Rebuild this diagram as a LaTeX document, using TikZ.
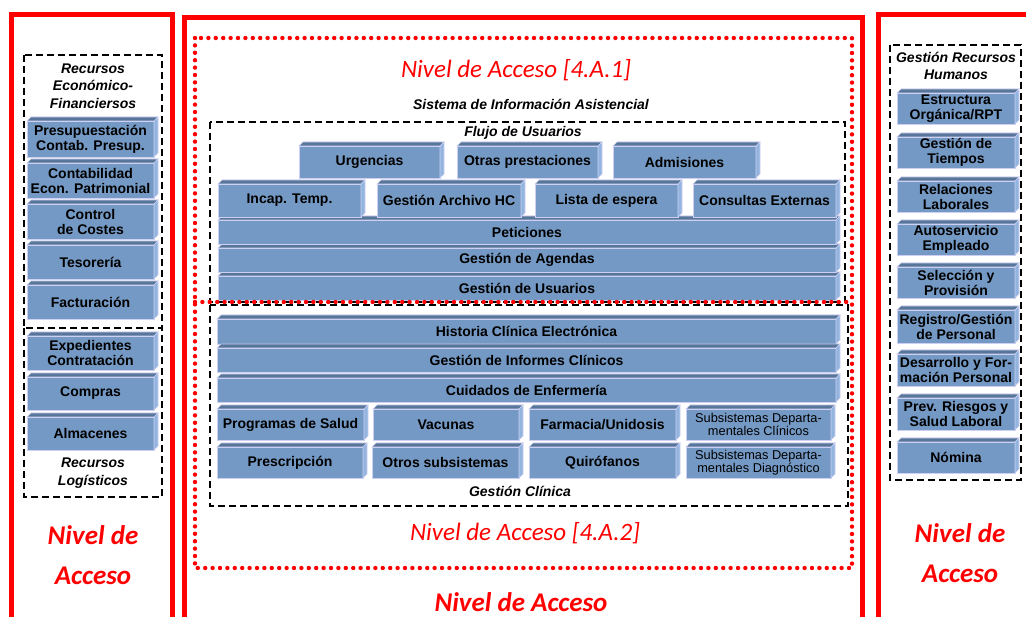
\documentclass[tikz,border=0pt]{standalone}
\usepackage{fontspec}
\setmainfont{Liberation Sans}
\newfontfamily\calfont{Carlito}
\usetikzlibrary{calc}
\definecolor{cfront}{RGB}{116,153,196}
\definecolor{ctop}{RGB}{88,118,154}
\definecolor{cside}{RGB}{146,180,222}
\definecolor{cedge}{RGB}{205,208,242}
\newcommand\boxfont{\fontsize{14}{15}\selectfont\bfseries}
\newcommand\smallboxfont{\fontsize{12.8}{13.5}\selectfont\mdseries}
\newcommand\titlefont{\fontsize{14}{17.5}\selectfont\bfseries\itshape}
\newcommand\cube[7][]{%
  \pgfmathsetmacro\cubew{#5-#3-4}%
  \pgfmathsetmacro\cubeh{#6-#4-4}%
  \node[cubefront,#1,minimum width=\cubew pt,minimum height=\cubeh pt,anchor=south west] (#2) at (#3,#6) {#7};
  \filldraw[cubetop] (#2.north west) -- ++(4,-4) -- ++(\cubew,0) -- (#2.north east) -- cycle;
  \filldraw[cubeside] (#2.north east) -- ++(4,-4) -- ++(0,\cubeh) -- (#2.south east) -- cycle;
}
\tikzset{
  cubefront/.style={fill=cfront, draw=cedge, line width=0.6pt, inner sep=0pt, outer sep=0pt, font=\boxfont, align=center, text=black},
  cubetop/.style={fill=ctop, draw=cedge, line width=0.6pt},
  cubeside/.style={fill=cside, draw=cedge, line width=0.6pt},
  smalltxt/.style={font=\smallboxfont},
  redframe/.style={draw=red, line width=5pt},
  dotframe/.style={draw=red, line width=4.4pt, line cap=round, dash pattern=on 0pt off 7.4pt},
  dashframe/.style={draw=black, line width=2.2pt, dash pattern=on 7pt off 4pt},
  titletxt/.style={font=\titlefont, align=center, inner sep=0pt},
  redlbl/.style={text=red, align=center, inner sep=0pt, font=\calfont\fontsize{25}{25}\selectfont\itshape},
  redbig/.style={text=red, align=center, inner sep=0pt, font=\calfont\fontsize{27}{40}\selectfont\bfseries\itshape},
}
\begin{document}
\begin{tikzpicture}[x=1pt,y=-1pt]
\useasboundingbox (0,0) rectangle (1026,617);
\clip (0,0) rectangle (1026,617);
\fill[white] (0,0) rectangle (1026,617);
% red frames
\draw[redframe] (11,15) rectangle (172,650);
\draw[redframe] (184.5,18) rectangle (862.5,650);
\draw[redframe] (878,15) rectangle (1060,650);

% ---------------- left column
\draw[dashframe] (24,55) rectangle (162,328);
\draw[dashframe] (24,328) rectangle (162,497);
\node[titletxt] (refin) at (93,86) {Recursos\\Económico-\\Financiersos};
\cube{presup}{27}{117}{158}{157}{Presupuestación\\Contab. Presup.}
\cube{contab}{27}{159}{158}{198}{Contabilidad\\Econ. Patrimonial}
\cube{costes}{27}{200}{158}{239}{Control\\de Costes}
\cube{tesor}{27}{241}{158}{279}{Tesorería}
\cube{factu}{27}{281}{158}{319}{Facturación}
\cube{exped}{27}{332}{158}{370}{Expedientes\\Contratación}
\cube{compras}{27}{373}{158}{410}{Compras}
\cube{almac}{27}{413}{158}{450}{Almacenes}
\node[titletxt] (rlog) at (93,473) {Recursos\\Logísticos};
\node[redbig] (nivL) at (93,555) {Nivel de\\Acceso};

% ---------------- right column
\draw[dashframe] (890,45) rectangle (1021,480);
\node[titletxt] (rrhh) at (956,66) {Gestión Recursos\\Humanos};
\cube{estru}{897}{89}{1019}{124}{Estructura\\Orgánica/RPT}
\cube{tiempos}{897}{133}{1019}{168}{Gestión de\\Tiempos}
\cube{relac}{897}{177}{1019}{212}{Relaciones\\Laborales}
\cube{autos}{897}{220}{1019}{255}{Autoservicio\\Empleado}
\cube{selec}{897}{263}{1019}{298}{Selección y\\Provisión}
\cube{regis}{897}{306}{1019}{343}{Registro/Gestión\\de Personal}
\cube{desar}{897}{350}{1019}{386}{Desarrollo y For-\\mación Personal}
\cube{prev}{897}{394}{1019}{430}{Prev. Riesgos y\\Salud Laboral}
\cube{nomina}{897}{438}{1019}{473}{Nómina}
\node[redbig] (nivR) at (960,553) {Nivel de\\Acceso};

% ---------------- centre
\node[redlbl] (n41) at (516,70) {Nivel de Acceso [4.A.1]};
\node[titletxt] (sia) at (531,104) {Sistema de Información Asistencial};
\draw[dashframe] (210,122) rectangle (845,302);
\node[titletxt] (flujo) at (523,133) {Flujo de Usuarios};
\cube{usuarios}{218}{272}{840}{300}{Gestión de Usuarios}
\cube{agendas}{218}{244}{840}{272}{Gestión de Agendas}
\cube{petic}{218}{216}{840}{244}{Peticiones}
\cube{incap}{218}{180}{365}{217}{Incap. Temp.}
\cube{archivo}{377}{180}{525}{217}{Gestión Archivo HC}
\cube{lista}{535}{180}{682}{217}{Lista de espera}
\cube{consul}{693}{180}{840}{217}{Consultas Externas}
\cube{urgen}{299}{142}{444}{178}{Urgencias}
\cube{otras}{457}{142}{602}{178}{Otras prestaciones}
\cube{admis}{613}{142}{760}{178}{Admisiones}

\draw[dashframe] (210,305) rectangle (848,506);
\cube{hce}{217}{315}{840}{344}{Historia Clínica Electrónica}
\cube{informes}{217}{344}{840}{372}{Gestión de Informes Clínicos}
\cube{cuidados}{217}{374}{840}{402}{Cuidados de Enfermería}
\cube{progr}{217}{405}{368}{440}{Programas de Salud}
\cube{vacunas}{373}{405}{523}{440}{Vacunas}
\cube{farma}{529}{405}{680}{440}{Farmacia/Unidosis}
\cube[smalltxt]{subcli}{686}{405}{835}{440}{Subsistemas Departa-\\mentales Clínicos}
\cube{prescr}{217}{443}{367}{478}{Prescripción}
\cube{otrossub}{372}{443}{523}{478}{Otros subsistemas}
\cube{quiro}{529}{443}{680}{478}{Quirófanos}
\cube[smalltxt]{subdiag}{686}{443}{835}{478}{Subsistemas Departa-\\mentales Diagnóstico}
\node[titletxt] (gclin) at (520,491) {Gestión Clínica};

\node[redlbl] (n42) at (525,533) {Nivel de Acceso [4.A.2]};
\draw[dotframe] (195,38) rectangle (852,568);
\draw[dotframe] (195,302) -- (852,302);
\node[redbig, font=\calfont\fontsize{27}{27}\selectfont\bfseries\itshape] (nivC) at (521,602) {Nivel de Acceso};
\end{tikzpicture}
\end{document}
